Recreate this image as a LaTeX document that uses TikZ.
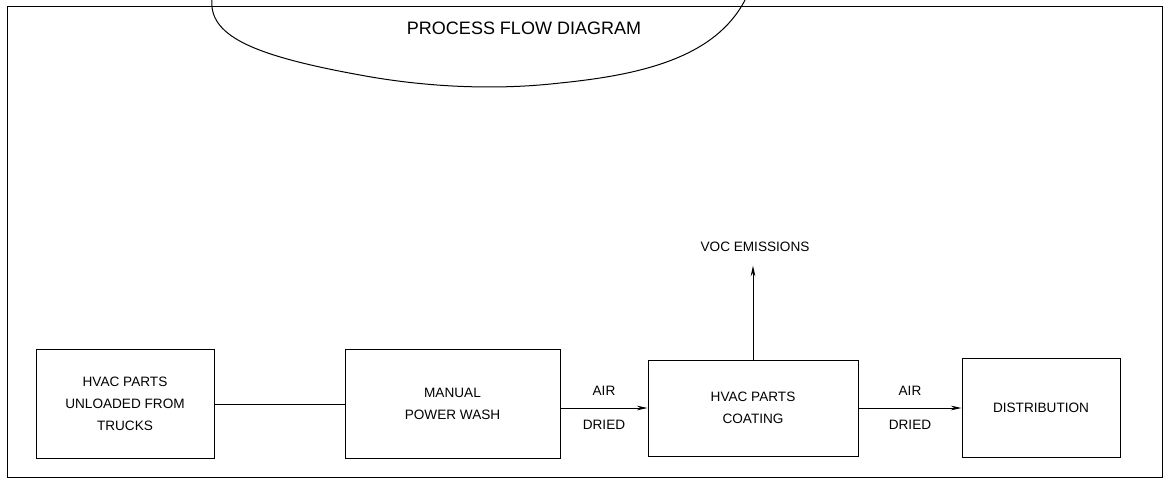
\documentclass[tikz,border=0pt]{standalone}
\usepackage{fontspec}
\setmainfont{Liberation Sans}
\usetikzlibrary{arrows.meta}

\tikzset{
  procbox/.style={draw, inner sep=0pt, align=center, font=\fontsize{10.2}{16.5}\selectfont},
  flowlbl/.style={font=\fontsize{10.2}{12}\selectfont, inner sep=0pt},
}

\begin{document}
\begin{tikzpicture}[x=0.75pt, y=-0.75pt, line width=0.75pt, >={Stealth[length=8pt,width=3.5pt]}]
  \useasboundingbox (0,0) rectangle (1167,483);
  % frame
  \draw (7,6) rectangle (1162,477);
  % title bubble
  \draw (212,-2) .. controls (208,35) and (250,55) .. (360,75)
        .. controls (430,88) and (500,90) .. (560,83)
        .. controls (640,75) and (715,58) .. (745,0);
  \node (title) at (524,28) {\fontsize{13.5}{15}\selectfont PROCESS FLOW DIAGRAM};
  % boxes
  \node (unload) [procbox, minimum width=133.5pt, minimum height=81.75pt] at (125,404)
        {HVAC PARTS\\ UNLOADED FROM\\ TRUCKS};
  \node (wash) [procbox, minimum width=161.25pt, minimum height=81.75pt] at (452.5,404)
        {MANUAL\\ POWER WASH};
  \node (coat) [procbox, minimum width=157.5pt, minimum height=72pt] at (753,408)
        {HVAC PARTS\\ COATING};
  \node (dist) [procbox, minimum width=118.5pt, minimum height=74.25pt] at (1041,408)
        {DISTRIBUTION};
  \node (voc) [flowlbl] at (755,247) {VOC EMISSIONS};
  % connectors
  \draw (unload) -- (wash);
  \draw[->] (wash.east |- coat.west) -- (coat.west) node[midway, above=9pt, flowlbl] {AIR} node[midway, below=9pt, flowlbl] {DRIED};
  \draw[->] (coat) -- (dist) node[midway, above=9pt, flowlbl] {AIR} node[midway, below=9pt, flowlbl] {DRIED};
  \draw[->, shorten >=10pt] (coat.north) -- (coat.north |- voc.south);
\end{tikzpicture}
\end{document}
